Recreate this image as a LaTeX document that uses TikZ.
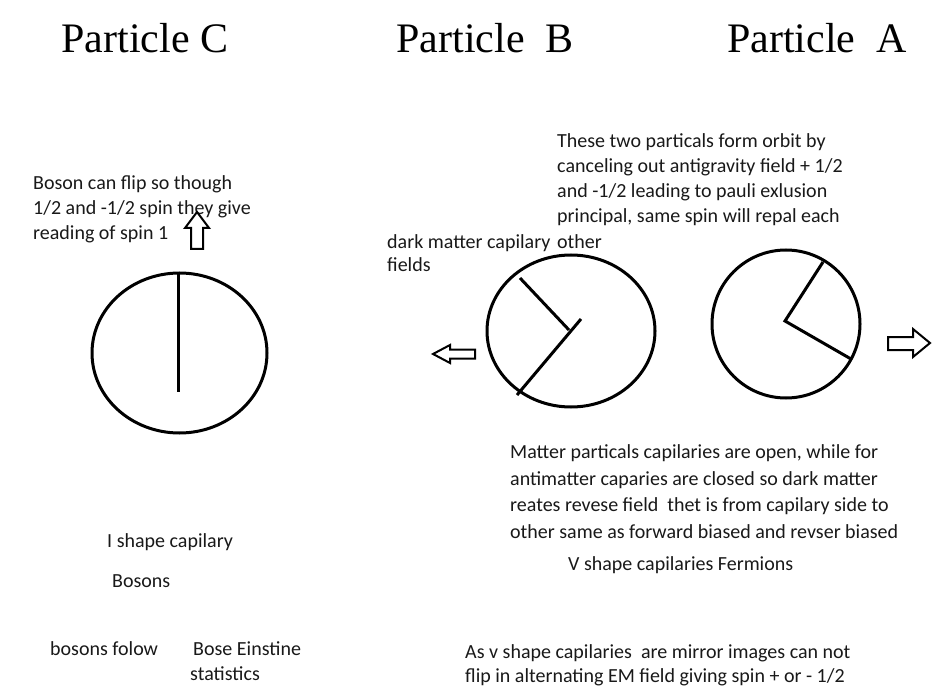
\documentclass[tikz,border=0pt]{standalone}
\usepackage{fontspec}
\setmainfont{Liberation Serif}
\newfontfamily\carl{Carlito}
\begin{document}
\begin{tikzpicture}[x=1pt,y=-1pt,
  title/.style={font=\fontsize{42}{48}\selectfont, inner sep=0pt, anchor=base},
  txt/.style={font=\carl\fontsize{20}{25}\selectfont, inner sep=0pt, anchor=base west, text=black!90},
  ring/.style={line width=3pt, draw=black},
  capline/.style={line width=3pt, draw=black},
  blockarrow/.style={line width=2pt, draw=black, line join=miter}]
\useasboundingbox (0,0) rectangle (932,695);
\fill[white] (0,0) rectangle (932,695);

% titles
\node[title] (tC) at (145,53) {Particle C};
\node[title] (tB) at (485,53) {Particle\ \ B};
\node[title] (tA) at (817,53) {Particle\ \ A};

% boson text
\node[txt] (b1) at (33,190) {Boson can flip so though};
\node[txt] (b2) at (33,215) {1/2 and -1/2 spin they give};
\node[txt] (b3) at (33,240) {reading of spin 1};

% up arrow
\draw[blockarrow] (197,212) -- (209,228) -- (203,228) -- (203,249) -- (191,249) -- (191,228) -- (185,228) -- cycle;

% particle C
\draw[ring] (179.5,353) ellipse [x radius=87.5, y radius=80];
\draw[capline] (178,273) -- (178,392);

% orbit text
\node[txt] (o1) at (557,148) {These two particals form orbit by};
\node[txt] (o2) at (557,173) {canceling out antigravity field + 1/2};
\node[txt] (o3) at (557,198) {and -1/2 leading to pauli exlusion};
\node[txt] (o4) at (557,223) {principal, same spin will repal each};
\node[txt] (o5) at (557,248) {other};

\node[txt] (d1) at (387,248) {dark matter capilary};
\node[txt] (d2) at (387,272) {fields};

% particle B
\draw[ring] (571,331) ellipse [x radius=84, y radius=76];
\draw[capline] (520,278) -- (569,330);
\draw[capline] (517,395) -- (581,319);

% particle A
\draw[ring] (786,324) ellipse [x radius=74, y radius=74];
\draw[capline] (823,262) -- (785,321) -- (851,359);

% side arrows
\draw[blockarrow] (433,354) -- (450,345) -- (450,349.5) -- (475,349.5) -- (475,358.5) -- (450,358.5) -- (450,363) -- cycle;
\draw[blockarrow] (930,343) -- (913,329) -- (913,337) -- (888,337) -- (888,350) -- (913,350) -- (913,357) -- cycle;

% matter text
\node[txt] (m1) at (510,458) {Matter particals capilaries are open, while for};
\node[txt] (m2) at (510,485) {antimatter caparies are closed so dark matter};
\node[txt] (m3) at (510,511) {reates revese field\ \ thet is from capilary side to};
\node[txt] (m4) at (510,538) {other same as forward biased and revser biased};
\node[txt] (m5) at (568,570) {V shape capilaries Fermions};

% boson captions
\node[txt] (i1) at (107,547) {I shape capilary};
\node[txt] (i2) at (112,587) {Bosons};
\node[txt] (f1) at (50,655) {bosons folow};
\node[txt] (f2) at (193,655) {Bose Einstine};
\node[txt] (f3) at (190,680) {statistics};

% mirror text
\node[txt] (v1) at (465,658) {As v shape capilaries\ \ are mirror images can not};
\node[txt] (v2) at (465,682) {flip in alternating EM field giving spin + or - 1/2};
\end{tikzpicture}
\end{document}
